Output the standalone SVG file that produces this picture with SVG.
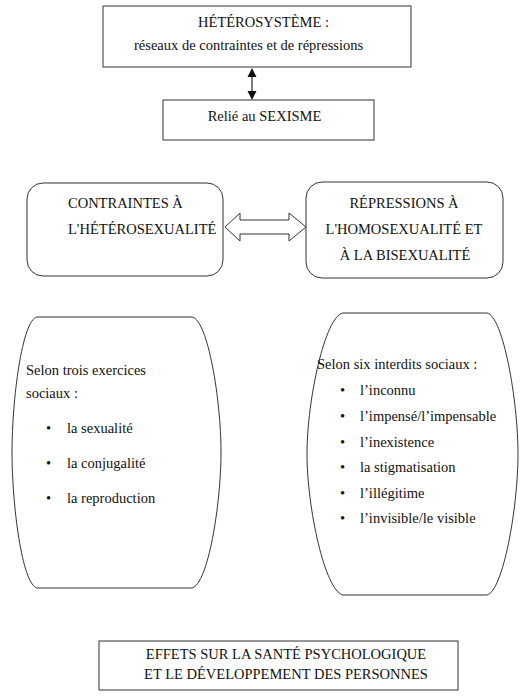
<svg xmlns="http://www.w3.org/2000/svg" width="523" height="700" viewBox="0 0 523 700">
<style>
.b{fill:#fff;stroke:#333;stroke-width:1}
.t{font-family:"Liberation Serif","Times New Roman",serif;font-size:14.5px;fill:#111}
.c{text-anchor:middle}
.h{fill:#111;stroke:none}
</style>
<rect width="523" height="700" fill="#fff"/>
<g id="connectors">
<line x1="252" y1="74" x2="252" y2="94" stroke="#222" stroke-width="1.2"/>
<polygon class="h" points="252,68 247.5,77 256.5,77"/>
<polygon class="h" points="252,100 247.5,91 256.5,91"/>
<polygon class="b" points="225,227 240,213 240,220 289,220 289,213 306,227 289,241 289,234 240,234 240,241"/>
</g>
<g id="heterosysteme">
<rect class="b" x="103" y="6" width="308" height="61"/>
<text class="t" x="198" y="27">HÉTÉROSYSTÈME :</text>
<text class="t" x="134" y="50">réseaux de contraintes et de répressions</text>
</g>
<g id="sexisme">
<rect class="b" x="163" y="100" width="211" height="40"/>
<text class="t c" x="264.5" y="121">Relié au SEXISME</text>
</g>
<g id="contraintes">
<rect class="b" x="27" y="183" width="196" height="93" rx="16"/>
<text class="t" x="68" y="208">CONTRAINTES À</text>
<text class="t" x="68" y="234">L'HÉTÉROSEXUALITÉ</text>
</g>
<g id="repressions">
<rect class="b" x="306" y="182" width="197" height="96" rx="16"/>
<text class="t c" x="404" y="208">RÉPRESSIONS À</text>
<text class="t c" x="404" y="234">L'HOMOSEXUALITÉ ET</text>
<text class="t c" x="405" y="260">À LA BISEXUALITÉ</text>
</g>
<g id="exercices">
<path class="b" d="M37,317 L192,317 C208,320 221,400 221,452 C221,505 208,584 192,588 L37,588 C22,584 12,505 12,452 C12,400 22,320 37,317 Z"/>
<text class="t" x="26" y="375">Selon trois exercices</text>
<text class="t" x="26" y="398">sociaux :</text>
<text class="t" x="46" y="433">•</text><text class="t" x="67" y="433">la sexualité</text>
<text class="t" x="46" y="468">•</text><text class="t" x="67" y="468">la conjugalité</text>
<text class="t" x="46" y="503">•</text><text class="t" x="67" y="503">la reproduction</text>
</g>
<g id="interdits">
<path class="b" d="M343,313 L487,313 C503,316 518,400 518,454 C518,508 503,591 487,595 L343,595 C325,591 307,508 307,454 C307,400 325,316 343,313 Z"/>
<text class="t" x="317" y="369">Selon six interdits sociaux :</text>
<text class="t" x="340" y="395">•</text><text class="t" x="360" y="395">l’inconnu</text>
<text class="t" x="340" y="421">•</text><text class="t" x="360" y="421">l’impensé/l’impensable</text>
<text class="t" x="340" y="447">•</text><text class="t" x="360" y="447">l’inexistence</text>
<text class="t" x="340" y="472">•</text><text class="t" x="360" y="472">la stigmatisation</text>
<text class="t" x="340" y="498">•</text><text class="t" x="360" y="498">l’illégitime</text>
<text class="t" x="340" y="523">•</text><text class="t" x="360" y="523">l’invisible/le visible</text>
</g>
<g id="effets">
<rect class="b" x="99" y="641" width="359" height="49"/>
<text class="t c" x="286" y="659">EFFETS SUR LA SANTÉ PSYCHOLOGIQUE</text>
<text class="t c" x="286" y="679">ET LE DÉVELOPPEMENT DES PERSONNES</text>
</g>
</svg>
